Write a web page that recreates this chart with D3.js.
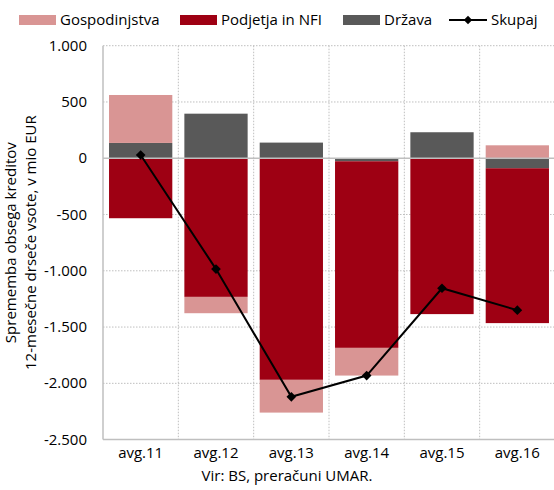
<!DOCTYPE html>
<html>
<head>
<meta charset="utf-8">
<script src="https://cdn.jsdelivr.net/npm/d3@7"></script>
<style>
  body { margin: 0; background: #fff; }
  svg { font-family: "Open Sans", sans-serif; }
</style>
</head>
<body>
<div id="chart"></div>
<script>
// data (mio EUR)
var categories = ["avg.11", "avg.12", "avg.13", "avg.14", "avg.15", "avg.16"];
var gospodinjstva = [426, -145, -291, -246, 0, 115];
var podjetja = [-533, -1232, -1969, -1658, -1385, -1376];
var drzava = [136, 396, 139, -27, 231, -89];
var skupaj = [29, -985, -2120, -1931, -1155, -1350];
var yTicks = [1000, 500, 0, -500, -1000, -1500, -2000, -2500];

var W = 554, H = 490;
var plotLeft = 103, plotRight = 555, plotTop = 45.7, plotBottom = 439.6;

var colors = { drzava: "#595959", podjetja: "#9e0013", gospodinjstva: "#d99594" };

var svg = d3.select("#chart").append("svg")
  .attr("width", W)
  .attr("height", H);

var x = d3.scaleBand().domain(categories).range([plotLeft, plotRight]).paddingInner(0.16).paddingOuter(0.08);
var y = d3.scaleLinear().domain([-2500, 1000]).range([plotBottom, plotTop]);

var loc = d3.formatLocale({ decimal: ",", thousands: ".", grouping: [3], currency: ["", " €"], minus: "-" });
var fmt = loc.format(",.0f");

// gridlines
svg.append("g")
  .selectAll("line")
  .data(yTicks.filter(function (d) { return d !== 0 && d !== -2500; }))
  .enter().append("line")
  .attr("x1", plotLeft).attr("x2", plotRight)
  .attr("y1", function (d) { return y(d); })
  .attr("y2", function (d) { return y(d); })
  .attr("stroke", "#bfbfbf")
  .attr("stroke-dasharray", "1.5,1.5");

var bandW = (plotRight - plotLeft) / categories.length;
svg.append("g")
  .selectAll("line")
  .data(d3.range(1, categories.length))
  .enter().append("line")
  .attr("x1", function (i) { return plotLeft + i * bandW; })
  .attr("x2", function (i) { return plotLeft + i * bandW; })
  .attr("y1", plotTop).attr("y2", plotBottom)
  .attr("stroke", "#bfbfbf")
  .attr("stroke-dasharray", "1.5,1.5");

// stacked bars (diverging)
var rows = categories.map(function (c, i) {
  return { cat: c, drzava: drzava[i], podjetja: podjetja[i], gospodinjstva: gospodinjstva[i] };
});
var stack = d3.stack()
  .keys(["drzava", "podjetja", "gospodinjstva"])
  .offset(d3.stackOffsetDiverging);
var series = stack(rows);

svg.append("g")
  .selectAll("g")
  .data(series)
  .enter().append("g")
  .attr("fill", function (s) { return colors[s.key]; })
  .selectAll("rect")
  .data(function (s) { return s; })
  .enter().append("rect")
  .attr("x", function (d) { return x(d.data.cat); })
  .attr("width", x.bandwidth())
  .attr("y", function (d) { return y(Math.max(d[0], d[1])); })
  .attr("height", function (d) { return Math.abs(y(d[0]) - y(d[1])); });

// axis lines
svg.append("line")
  .attr("x1", plotLeft).attr("x2", plotRight)
  .attr("y1", y(0)).attr("y2", y(0))
  .attr("stroke", "#bfbfbf").attr("stroke-width", 1.5);
svg.append("line")
  .attr("x1", plotLeft).attr("x2", plotRight)
  .attr("y1", plotBottom).attr("y2", plotBottom)
  .attr("stroke", "#bfbfbf").attr("stroke-width", 1.5);
svg.append("line")
  .attr("x1", plotLeft).attr("x2", plotLeft)
  .attr("y1", plotTop).attr("y2", plotBottom)
  .attr("stroke", "#bfbfbf").attr("stroke-width", 1.5);

// y labels
svg.append("g")
  .selectAll("text")
  .data(yTicks)
  .enter().append("text")
  .attr("x", 87)
  .attr("y", function (d) { return y(d) + 5; })
  .attr("text-anchor", "end")
  .attr("font-size", 15)
  .attr("fill", "#000")
  .text(function (d) { return fmt(d); });

// x labels
svg.append("g")
  .selectAll("text")
  .data(categories)
  .enter().append("text")
  .attr("x", function (d) { return x(d) + x.bandwidth() / 2; })
  .attr("y", 458)
  .attr("text-anchor", "middle")
  .attr("font-size", 15)
  .text(function (d) { return d; });

// total line
var line = d3.line()
  .x(function (d, i) { return x(categories[i]) + x.bandwidth() / 2; })
  .y(function (d) { return y(d); });

svg.append("path")
  .datum(skupaj)
  .attr("d", line)
  .attr("fill", "none")
  .attr("stroke", "#000")
  .attr("stroke-width", 2);

svg.append("g")
  .selectAll("path")
  .data(skupaj)
  .enter().append("path")
  .attr("d", d3.symbol().type(d3.symbolDiamond2).size(60))
  .attr("transform", function (d, i) {
    return "translate(" + (x(categories[i]) + x.bandwidth() / 2) + "," + y(d) + ")";
  })
  .attr("fill", "#000");

// y axis title
var yTitle = svg.append("text")
  .attr("transform", "translate(0," + ((plotTop + plotBottom) / 2) + ") rotate(-90)")
  .attr("text-anchor", "middle")
  .attr("font-size", 15);
yTitle.append("tspan").attr("x", 0).attr("y", 16).text("Sprememba obsega kreditov");
yTitle.append("tspan").attr("x", 0).attr("y", 36).text("12-mesečne drseče vsote, v mio EUR");

// source
svg.append("text")
  .attr("x", 287)
  .attr("y", 481)
  .attr("text-anchor", "middle")
  .attr("font-size", 15)
  .text("Vir: BS, preračuni UMAR.");

// legend
var legendItems = [
  { label: "Gospodinjstva", color: colors.gospodinjstva, x: 19 },
  { label: "Podjetja in NFI", color: colors.podjetja, x: 180 },
  { label: "Država", color: colors.drzava, x: 343 }
];
var legend = svg.append("g");
legendItems.forEach(function (d) {
  legend.append("rect")
    .attr("x", d.x).attr("y", 15)
    .attr("width", 37).attr("height", 10)
    .attr("fill", d.color);
  legend.append("text")
    .attr("x", d.x + 41).attr("y", 25)
    .attr("font-size", 15)
    .text(d.label);
});
legend.append("line")
  .attr("x1", 449).attr("x2", 487)
  .attr("y1", 20).attr("y2", 20)
  .attr("stroke", "#000").attr("stroke-width", 2);
legend.append("path")
  .attr("d", d3.symbol().type(d3.symbolDiamond2).size(45))
  .attr("transform", "translate(468,20)");
legend.append("text")
  .attr("x", 491).attr("y", 25)
  .attr("font-size", 15)
  .text("Skupaj");
</script>
</body>
</html>
